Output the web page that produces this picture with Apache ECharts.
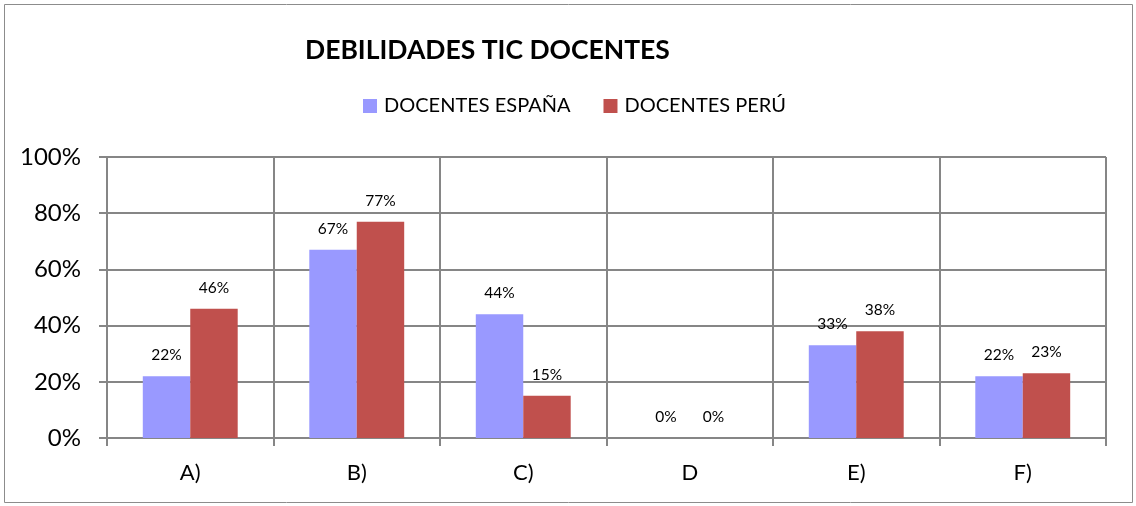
<!DOCTYPE html>
<html><head><meta charset="utf-8">
<script src="https://cdn.jsdelivr.net/npm/echarts@6/dist/echarts.min.js"></script>
<style>html,body{margin:0;padding:0;background:#fff}#c{width:1136px;height:506px}</style>
</head><body><div id="c"></div>
<script>
const categories = ['A)', 'B)', 'C)', 'D', 'E)', 'F)'];
const espana = [22, 67, 44, 0, 33, 22];
const peru = [46, 77, 15, 0, 38, 23];
const yTicks = [0, 20, 40, 60, 80, 100];

const chart = echarts.init(document.getElementById('c'));
const FONT = 'Lato, Carlito, "Open Sans", sans-serif';
chart.setOption({
  animation: false,
  textStyle: { fontFamily: FONT },
  graphic: [{ type: 'rect', shape: { x: 4.5, y: 4.5, width: 1128, height: 498 }, style: { fill: 'none', stroke: '#8c8c8c', lineWidth: 1 } }],
  title: { text: 'DEBILIDADES TIC DOCENTES', left: 300, top: 32, textStyle: { fontFamily: FONT, fontSize: 26.5, fontWeight: 'bold', color: '#000' } },
  legend: { top: 91, left: 358, itemGap: 33, itemWidth: 14, itemHeight: 14, icon: 'rect', textStyle: { fontFamily: FONT, fontSize: 20, color: '#000', padding: [0, 0, 0, 2] }, data: ['DOCENTES ESPAÑA', 'DOCENTES PERÚ'] },
  grid: { left: 107, right: 30, top: 157, bottom: 68 },
  xAxis: {
    type: 'category', data: categories,
    axisLine: { lineStyle: { color: '#868686', width: 2 } },
    axisTick: { show: true, length: 8, lineStyle: { color: '#868686', width: 2 } },
    splitLine: { show: true, lineStyle: { color: '#868686', width: 2 } },
    axisLabel: { margin: 24, fontSize: 22, color: '#000', fontFamily: FONT }
  },
  yAxis: {
    type: 'value', min: 0, max: 100, interval: 20,
    axisLine: { show: true, lineStyle: { color: '#868686', width: 2 } },
    axisTick: { show: true, length: 8, lineStyle: { color: '#868686', width: 2 } },
    splitLine: { show: true, lineStyle: { color: '#868686', width: 2 } },
    axisLabel: { margin: 26, fontSize: 24, color: '#000', fontFamily: FONT, formatter: v => yTicks.includes(v) ? v + '%' : '' }
  },
  series: [
    { name: 'DOCENTES ESPAÑA', type: 'bar', data: espana, barGap: '0%', barCategoryGap: '43%', itemStyle: { color: '#9999FF' },
      label: { show: true, position: 'top', distance: 13, fontSize: 15.5, color: '#000', fontFamily: FONT, formatter: p => p.value + '%' } },
    { name: 'DOCENTES PERÚ', type: 'bar', data: peru, barGap: '0%', barCategoryGap: '43%', itemStyle: { color: '#C0504D' },
      label: { show: true, position: 'top', distance: 13, fontSize: 15.5, color: '#000', fontFamily: FONT, formatter: p => p.value + '%' } }
  ]
});
</script></body></html>
